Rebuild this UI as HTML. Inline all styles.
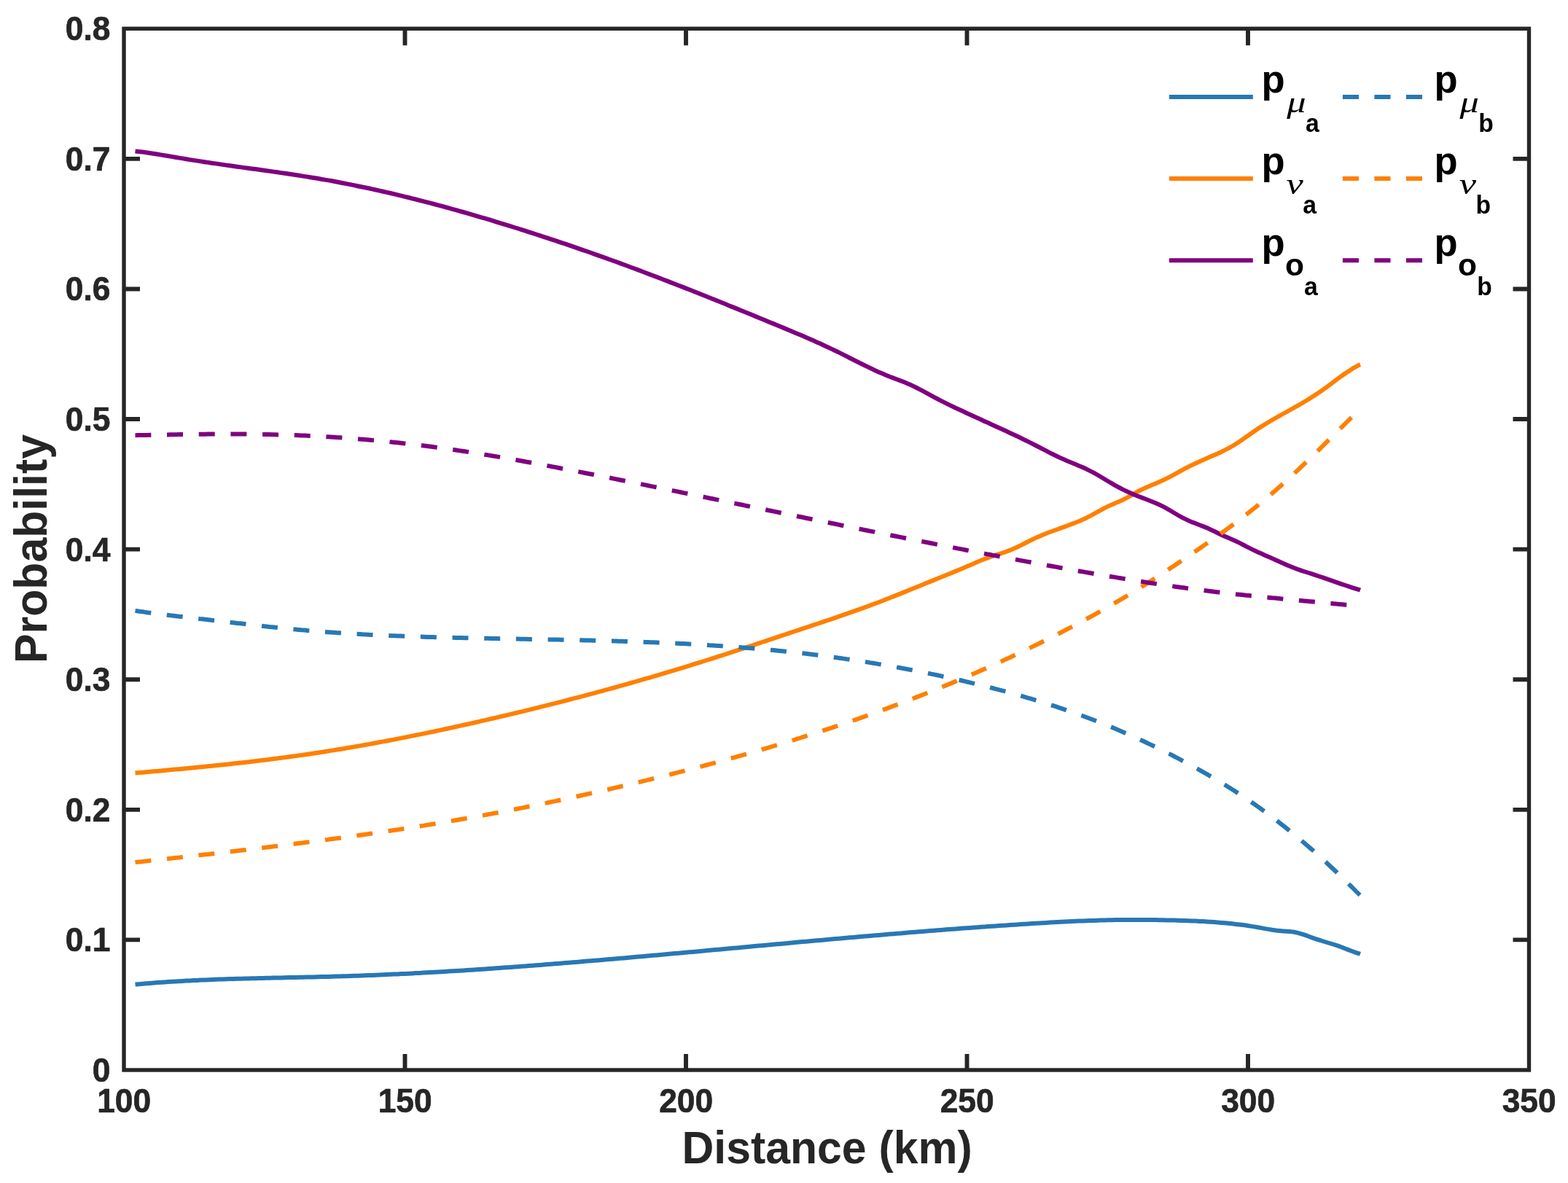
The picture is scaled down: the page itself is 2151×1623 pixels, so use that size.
<!DOCTYPE html>
<html lang="en"><head><meta charset="utf-8"><title>Probability vs Distance</title>
<style>
html,body{margin:0;padding:0;background:#fff;}
body{width:2151px;height:1623px;overflow:hidden;}
svg{display:block;}
text{font-family:"Liberation Sans",Arial,Helvetica,sans-serif;font-weight:bold;}
.c{fill:none;stroke-width:6.0;stroke-linejoin:round;stroke-linecap:butt;}
</style></head><body>
<svg width="2151" height="1623" viewBox="0 0 2151 1623">
<rect width="2151" height="1623" fill="#fff"/>
<path class="c" stroke="#2878b5" d="M185.5,1350.6 L190.5,1350.2 L195.5,1349.7 L200.5,1349.3 L205.5,1348.9 L210.5,1348.5 L215.5,1348.1 L220.5,1347.8 L225.5,1347.4 L230.5,1347.1 L235.5,1346.8 L240.5,1346.5 L245.5,1346.2 L250.5,1345.9 L255.5,1345.6 L260.5,1345.4 L265.5,1345.1 L270.5,1344.9 L275.5,1344.6 L280.5,1344.4 L285.5,1344.2 L290.5,1344.0 L295.5,1343.8 L300.5,1343.6 L305.5,1343.5 L310.5,1343.3 L315.5,1343.1 L320.5,1343.0 L325.5,1342.8 L330.5,1342.7 L335.5,1342.5 L340.5,1342.4 L345.5,1342.3 L350.5,1342.2 L355.5,1342.0 L360.5,1341.9 L365.5,1341.8 L370.5,1341.7 L375.5,1341.6 L380.5,1341.5 L385.5,1341.4 L390.5,1341.3 L395.5,1341.1 L400.5,1341.0 L405.5,1340.9 L410.5,1340.8 L415.5,1340.7 L420.5,1340.6 L425.5,1340.5 L430.5,1340.4 L435.5,1340.3 L440.5,1340.1 L445.5,1340.0 L450.5,1339.9 L455.5,1339.7 L460.5,1339.6 L465.5,1339.5 L470.5,1339.3 L475.5,1339.2 L480.5,1339.0 L485.5,1338.8 L490.5,1338.7 L495.5,1338.5 L500.5,1338.3 L505.5,1338.1 L510.5,1337.9 L515.5,1337.7 L520.5,1337.5 L525.5,1337.3 L530.5,1337.1 L535.5,1336.8 L540.5,1336.6 L545.5,1336.4 L550.5,1336.1 L555.5,1335.9 L560.5,1335.7 L565.5,1335.4 L570.5,1335.1 L575.5,1334.9 L580.5,1334.6 L585.5,1334.3 L590.5,1334.1 L595.5,1333.8 L600.5,1333.5 L605.5,1333.2 L610.5,1332.9 L615.5,1332.6 L620.5,1332.3 L625.5,1332.0 L630.5,1331.7 L635.5,1331.4 L640.5,1331.0 L645.5,1330.7 L650.5,1330.4 L655.5,1330.1 L660.5,1329.7 L665.5,1329.4 L670.5,1329.0 L675.5,1328.7 L680.5,1328.3 L685.5,1328.0 L690.5,1327.6 L695.5,1327.3 L700.5,1326.9 L705.5,1326.5 L710.5,1326.2 L715.5,1325.8 L720.5,1325.4 L725.5,1325.1 L730.5,1324.7 L735.5,1324.3 L740.5,1323.9 L745.5,1323.5 L750.5,1323.1 L755.5,1322.7 L760.5,1322.3 L765.5,1321.9 L770.5,1321.5 L775.5,1321.1 L780.5,1320.7 L785.5,1320.3 L790.5,1319.9 L795.5,1319.5 L800.5,1319.1 L805.5,1318.6 L810.5,1318.2 L815.5,1317.8 L820.5,1317.4 L825.5,1317.0 L830.5,1316.5 L835.5,1316.1 L840.5,1315.7 L845.5,1315.2 L850.5,1314.8 L855.5,1314.4 L860.5,1313.9 L865.5,1313.5 L870.5,1313.1 L875.5,1312.6 L880.5,1312.2 L885.5,1311.7 L890.5,1311.3 L895.5,1310.8 L900.5,1310.4 L905.5,1309.9 L910.5,1309.5 L915.5,1309.1 L920.5,1308.6 L925.5,1308.1 L930.5,1307.7 L935.5,1307.2 L940.5,1306.8 L945.5,1306.3 L950.5,1305.9 L955.5,1305.4 L960.5,1305.0 L965.5,1304.5 L970.5,1304.1 L975.5,1303.6 L980.5,1303.1 L985.5,1302.7 L990.5,1302.2 L995.5,1301.8 L1000.5,1301.3 L1005.5,1300.8 L1010.5,1300.4 L1015.5,1299.9 L1020.5,1299.5 L1025.5,1299.0 L1030.5,1298.5 L1035.5,1298.1 L1040.5,1297.6 L1045.5,1297.2 L1050.5,1296.7 L1055.5,1296.3 L1060.5,1295.8 L1065.5,1295.3 L1070.5,1294.9 L1075.5,1294.4 L1080.5,1294.0 L1085.5,1293.5 L1090.5,1293.1 L1095.5,1292.6 L1100.5,1292.1 L1105.5,1291.7 L1110.5,1291.2 L1115.5,1290.8 L1120.5,1290.3 L1125.5,1289.9 L1130.5,1289.4 L1135.5,1289.0 L1140.5,1288.6 L1145.5,1288.1 L1150.5,1287.7 L1155.5,1287.2 L1160.5,1286.8 L1165.5,1286.3 L1170.5,1285.9 L1175.5,1285.5 L1180.5,1285.0 L1185.5,1284.6 L1190.5,1284.2 L1195.5,1283.7 L1200.5,1283.3 L1205.5,1282.9 L1210.5,1282.5 L1215.5,1282.0 L1220.5,1281.6 L1225.5,1281.2 L1230.5,1280.8 L1235.5,1280.4 L1240.5,1279.9 L1245.5,1279.5 L1250.5,1279.1 L1255.5,1278.7 L1260.5,1278.3 L1265.5,1277.9 L1270.5,1277.5 L1275.5,1277.1 L1280.5,1276.7 L1285.5,1276.3 L1290.5,1275.9 L1295.5,1275.5 L1300.5,1275.1 L1305.5,1274.8 L1310.5,1274.4 L1315.5,1274.0 L1320.5,1273.6 L1325.5,1273.3 L1330.5,1272.9 L1335.5,1272.5 L1340.5,1272.2 L1345.5,1271.8 L1350.5,1271.4 L1355.5,1271.1 L1360.5,1270.7 L1365.5,1270.4 L1370.5,1270.0 L1375.5,1269.7 L1380.5,1269.4 L1385.5,1269.0 L1390.5,1268.7 L1395.5,1268.4 L1400.5,1268.0 L1405.5,1267.7 L1410.5,1267.4 L1415.5,1267.1 L1420.5,1266.8 L1425.5,1266.5 L1430.5,1266.2 L1435.5,1265.9 L1440.5,1265.6 L1445.5,1265.3 L1450.5,1265.1 L1455.5,1264.8 L1460.5,1264.5 L1465.5,1264.3 L1470.5,1264.1 L1475.5,1263.8 L1480.5,1263.6 L1485.5,1263.4 L1490.5,1263.2 L1495.5,1263.0 L1500.5,1262.9 L1505.5,1262.7 L1510.5,1262.6 L1515.5,1262.4 L1520.5,1262.3 L1525.5,1262.2 L1530.5,1262.1 L1535.5,1262.0 L1540.5,1262.0 L1545.5,1261.9 L1550.5,1261.9 L1555.5,1261.9 L1560.5,1261.9 L1565.5,1261.9 L1570.5,1261.9 L1575.5,1262.0 L1580.5,1262.0 L1585.5,1262.1 L1590.5,1262.2 L1595.5,1262.3 L1600.5,1262.4 L1605.5,1262.5 L1610.5,1262.6 L1615.5,1262.7 L1620.5,1262.9 L1625.5,1263.0 L1630.5,1263.2 L1635.5,1263.4 L1640.5,1263.6 L1645.5,1263.9 L1650.5,1264.1 L1655.5,1264.4 L1660.5,1264.7 L1665.5,1265.1 L1670.5,1265.4 L1675.5,1265.9 L1680.5,1266.3 L1685.5,1266.8 L1690.5,1267.3 L1695.5,1267.9 L1700.5,1268.5 L1705.5,1269.1 L1710.5,1269.8 L1715.5,1270.6 L1720.5,1271.4 L1725.5,1272.2 L1730.5,1273.1 L1735.5,1274.1 L1740.5,1274.9 L1745.5,1275.8 L1750.5,1276.5 L1755.5,1277.0 L1760.5,1277.4 L1765.5,1277.7 L1770.5,1278.1 L1775.5,1278.8 L1780.5,1279.9 L1785.5,1281.3 L1790.5,1282.9 L1795.5,1284.8 L1800.5,1286.6 L1805.5,1288.3 L1810.5,1289.9 L1815.5,1291.5 L1820.5,1293.0 L1825.5,1294.5 L1830.5,1296.0 L1835.5,1297.7 L1840.5,1299.5 L1845.5,1301.5 L1850.5,1303.4 L1855.5,1305.3 L1860.5,1307.1 L1865.5,1308.7 L1866.0,1308.9"/>
<path class="c" stroke="#ff8000" d="M185.5,1060.5 L190.5,1060.1 L195.5,1059.7 L200.5,1059.2 L205.5,1058.8 L210.5,1058.3 L215.5,1057.9 L220.5,1057.5 L225.5,1057.0 L230.5,1056.6 L235.5,1056.1 L240.5,1055.6 L245.5,1055.2 L250.5,1054.7 L255.5,1054.2 L260.5,1053.8 L265.5,1053.3 L270.5,1052.8 L275.5,1052.3 L280.5,1051.8 L285.5,1051.3 L290.5,1050.8 L295.5,1050.3 L300.5,1049.8 L305.5,1049.2 L310.5,1048.7 L315.5,1048.2 L320.5,1047.6 L325.5,1047.1 L330.5,1046.5 L335.5,1045.9 L340.5,1045.4 L345.5,1044.8 L350.5,1044.2 L355.5,1043.6 L360.5,1043.0 L365.5,1042.4 L370.5,1041.7 L375.5,1041.1 L380.5,1040.5 L385.5,1039.8 L390.5,1039.1 L395.5,1038.5 L400.5,1037.8 L405.5,1037.1 L410.5,1036.4 L415.5,1035.7 L420.5,1035.0 L425.5,1034.2 L430.5,1033.5 L435.5,1032.7 L440.5,1032.0 L445.5,1031.2 L450.5,1030.4 L455.5,1029.6 L460.5,1028.8 L465.5,1028.0 L470.5,1027.2 L475.5,1026.3 L480.5,1025.5 L485.5,1024.6 L490.5,1023.7 L495.5,1022.9 L500.5,1022.0 L505.5,1021.1 L510.5,1020.2 L515.5,1019.3 L520.5,1018.3 L525.5,1017.4 L530.5,1016.5 L535.5,1015.5 L540.5,1014.6 L545.5,1013.6 L550.5,1012.6 L555.5,1011.6 L560.5,1010.6 L565.5,1009.6 L570.5,1008.6 L575.5,1007.6 L580.5,1006.6 L585.5,1005.6 L590.5,1004.5 L595.5,1003.5 L600.5,1002.4 L605.5,1001.4 L610.5,1000.3 L615.5,999.2 L620.5,998.1 L625.5,997.0 L630.5,995.9 L635.5,994.8 L640.5,993.7 L645.5,992.6 L650.5,991.5 L655.5,990.4 L660.5,989.2 L665.5,988.1 L670.5,986.9 L675.5,985.8 L680.5,984.6 L685.5,983.4 L690.5,982.3 L695.5,981.1 L700.5,979.9 L705.5,978.7 L710.5,977.5 L715.5,976.3 L720.5,975.1 L725.5,973.9 L730.5,972.6 L735.5,971.4 L740.5,970.2 L745.5,968.9 L750.5,967.7 L755.5,966.4 L760.5,965.1 L765.5,963.9 L770.5,962.6 L775.5,961.3 L780.5,960.0 L785.5,958.7 L790.5,957.4 L795.5,956.1 L800.5,954.8 L805.5,953.4 L810.5,952.1 L815.5,950.8 L820.5,949.4 L825.5,948.1 L830.5,946.7 L835.5,945.3 L840.5,944.0 L845.5,942.6 L850.5,941.2 L855.5,939.8 L860.5,938.4 L865.5,937.0 L870.5,935.5 L875.5,934.1 L880.5,932.7 L885.5,931.2 L890.5,929.8 L895.5,928.3 L900.5,926.8 L905.5,925.4 L910.5,923.9 L915.5,922.4 L920.5,920.9 L925.5,919.4 L930.5,917.9 L935.5,916.3 L940.5,914.8 L945.5,913.3 L950.5,911.7 L955.5,910.2 L960.5,908.6 L965.5,907.0 L970.5,905.5 L975.5,903.9 L980.5,902.3 L985.5,900.7 L990.5,899.1 L995.5,897.5 L1000.5,895.8 L1005.5,894.2 L1010.5,892.6 L1015.5,890.9 L1020.5,889.3 L1025.5,887.7 L1030.5,886.0 L1035.5,884.4 L1040.5,882.7 L1045.5,881.0 L1050.5,879.4 L1055.5,877.7 L1060.5,876.1 L1065.5,874.4 L1070.5,872.7 L1075.5,871.0 L1080.5,869.4 L1085.5,867.7 L1090.5,866.0 L1095.5,864.4 L1100.5,862.7 L1105.5,861.0 L1110.5,859.3 L1115.5,857.7 L1120.5,856.0 L1125.5,854.3 L1130.5,852.6 L1135.5,851.0 L1140.5,849.3 L1145.5,847.6 L1150.5,845.9 L1155.5,844.1 L1160.5,842.4 L1165.5,840.7 L1170.5,838.9 L1175.5,837.2 L1180.5,835.4 L1185.5,833.6 L1190.5,831.7 L1195.5,829.9 L1200.5,828.0 L1205.5,826.2 L1210.5,824.2 L1215.5,822.3 L1220.5,820.3 L1225.5,818.4 L1230.5,816.4 L1235.5,814.4 L1240.5,812.4 L1245.5,810.3 L1250.5,808.3 L1255.5,806.3 L1260.5,804.2 L1265.5,802.2 L1270.5,800.1 L1275.5,798.1 L1280.5,796.1 L1285.5,794.0 L1290.5,792.0 L1295.5,790.0 L1300.5,788.0 L1305.5,785.9 L1310.5,783.9 L1315.5,781.8 L1320.5,779.7 L1325.5,777.5 L1330.5,775.4 L1335.5,773.2 L1340.5,771.1 L1345.5,769.0 L1350.5,767.0 L1355.5,765.1 L1360.5,763.3 L1365.5,761.7 L1370.5,760.1 L1375.5,758.5 L1380.5,756.8 L1385.5,754.9 L1390.5,752.8 L1395.5,750.5 L1400.5,748.1 L1405.5,745.5 L1410.5,743.0 L1415.5,740.5 L1420.5,738.1 L1425.5,735.9 L1430.5,733.8 L1435.5,731.8 L1440.5,729.8 L1445.5,728.0 L1450.5,726.2 L1455.5,724.4 L1460.5,722.6 L1465.5,720.8 L1470.5,718.9 L1475.5,717.0 L1480.5,714.9 L1485.5,712.7 L1490.5,710.4 L1495.5,707.9 L1500.5,705.2 L1505.5,702.4 L1510.5,699.6 L1515.5,696.9 L1520.5,694.4 L1525.5,692.2 L1530.5,690.1 L1535.5,688.0 L1540.5,685.7 L1545.5,683.1 L1550.5,680.3 L1555.5,677.4 L1560.5,674.5 L1565.5,672.0 L1570.5,669.6 L1575.5,667.4 L1580.5,665.3 L1585.5,663.2 L1590.5,661.1 L1595.5,658.8 L1600.5,656.4 L1605.5,653.8 L1610.5,651.1 L1615.5,648.4 L1620.5,645.6 L1625.5,642.9 L1630.5,640.3 L1635.5,637.9 L1640.5,635.5 L1645.5,633.2 L1650.5,631.0 L1655.5,628.8 L1660.5,626.6 L1665.5,624.4 L1670.5,622.2 L1675.5,619.9 L1680.5,617.4 L1685.5,614.8 L1690.5,612.0 L1695.5,609.0 L1700.5,605.7 L1705.5,602.3 L1710.5,598.8 L1715.5,595.2 L1720.5,591.7 L1725.5,588.3 L1730.5,585.1 L1735.5,582.0 L1740.5,579.0 L1745.5,576.0 L1750.5,573.2 L1755.5,570.3 L1760.5,567.5 L1765.5,564.8 L1770.5,562.0 L1775.5,559.2 L1780.5,556.3 L1785.5,553.5 L1790.5,550.5 L1795.5,547.5 L1800.5,544.3 L1805.5,541.1 L1810.5,537.7 L1815.5,534.2 L1820.5,530.6 L1825.5,526.9 L1830.5,523.1 L1835.5,519.4 L1840.5,515.8 L1845.5,512.2 L1850.5,508.9 L1855.5,505.7 L1860.5,502.8 L1865.5,500.2 L1866.0,500.0"/>
<path class="c" stroke="#800080" d="M185.5,207.5 L190.5,208.0 L195.5,208.6 L200.5,209.3 L205.5,210.0 L210.5,210.8 L215.5,211.5 L220.5,212.4 L225.5,213.2 L230.5,214.0 L235.5,214.9 L240.5,215.8 L245.5,216.6 L250.5,217.4 L255.5,218.3 L260.5,219.1 L265.5,219.9 L270.5,220.6 L275.5,221.4 L280.5,222.2 L285.5,222.9 L290.5,223.7 L295.5,224.4 L300.5,225.1 L305.5,225.9 L310.5,226.6 L315.5,227.3 L320.5,228.0 L325.5,228.7 L330.5,229.4 L335.5,230.1 L340.5,230.8 L345.5,231.5 L350.5,232.1 L355.5,232.8 L360.5,233.5 L365.5,234.2 L370.5,234.9 L375.5,235.6 L380.5,236.3 L385.5,237.1 L390.5,237.8 L395.5,238.5 L400.5,239.3 L405.5,240.0 L410.5,240.8 L415.5,241.6 L420.5,242.4 L425.5,243.2 L430.5,244.0 L435.5,244.8 L440.5,245.7 L445.5,246.6 L450.5,247.4 L455.5,248.3 L460.5,249.3 L465.5,250.2 L470.5,251.2 L475.5,252.1 L480.5,253.1 L485.5,254.1 L490.5,255.2 L495.5,256.2 L500.5,257.2 L505.5,258.3 L510.5,259.4 L515.5,260.5 L520.5,261.6 L525.5,262.7 L530.5,263.9 L535.5,265.0 L540.5,266.2 L545.5,267.4 L550.5,268.6 L555.5,269.8 L560.5,271.0 L565.5,272.3 L570.5,273.5 L575.5,274.8 L580.5,276.1 L585.5,277.4 L590.5,278.7 L595.5,280.0 L600.5,281.3 L605.5,282.7 L610.5,284.0 L615.5,285.4 L620.5,286.8 L625.5,288.2 L630.5,289.6 L635.5,291.0 L640.5,292.4 L645.5,293.9 L650.5,295.3 L655.5,296.8 L660.5,298.3 L665.5,299.7 L670.5,301.2 L675.5,302.7 L680.5,304.3 L685.5,305.8 L690.5,307.3 L695.5,308.9 L700.5,310.4 L705.5,312.0 L710.5,313.5 L715.5,315.1 L720.5,316.7 L725.5,318.3 L730.5,319.9 L735.5,321.5 L740.5,323.1 L745.5,324.8 L750.5,326.4 L755.5,328.1 L760.5,329.7 L765.5,331.4 L770.5,333.1 L775.5,334.7 L780.5,336.4 L785.5,338.1 L790.5,339.9 L795.5,341.6 L800.5,343.3 L805.5,345.0 L810.5,346.8 L815.5,348.6 L820.5,350.3 L825.5,352.1 L830.5,353.9 L835.5,355.7 L840.5,357.5 L845.5,359.3 L850.5,361.1 L855.5,363.0 L860.5,364.8 L865.5,366.7 L870.5,368.5 L875.5,370.4 L880.5,372.3 L885.5,374.2 L890.5,376.1 L895.5,378.0 L900.5,379.9 L905.5,381.8 L910.5,383.7 L915.5,385.6 L920.5,387.6 L925.5,389.5 L930.5,391.5 L935.5,393.4 L940.5,395.4 L945.5,397.3 L950.5,399.3 L955.5,401.3 L960.5,403.3 L965.5,405.3 L970.5,407.3 L975.5,409.3 L980.5,411.3 L985.5,413.3 L990.5,415.3 L995.5,417.3 L1000.5,419.4 L1005.5,421.4 L1010.5,423.4 L1015.5,425.5 L1020.5,427.5 L1025.5,429.5 L1030.5,431.6 L1035.5,433.6 L1040.5,435.7 L1045.5,437.7 L1050.5,439.8 L1055.5,441.9 L1060.5,443.9 L1065.5,446.0 L1070.5,448.1 L1075.5,450.1 L1080.5,452.2 L1085.5,454.3 L1090.5,456.4 L1095.5,458.5 L1100.5,460.6 L1105.5,462.8 L1110.5,464.9 L1115.5,467.1 L1120.5,469.4 L1125.5,471.6 L1130.5,473.9 L1135.5,476.2 L1140.5,478.6 L1145.5,481.0 L1150.5,483.4 L1155.5,485.9 L1160.5,488.4 L1165.5,491.0 L1170.5,493.5 L1175.5,496.0 L1180.5,498.5 L1185.5,501.0 L1190.5,503.4 L1195.5,505.8 L1200.5,508.2 L1205.5,510.4 L1210.5,512.6 L1215.5,514.7 L1220.5,516.7 L1225.5,518.6 L1230.5,520.5 L1235.5,522.4 L1240.5,524.3 L1245.5,526.4 L1250.5,528.6 L1255.5,531.0 L1260.5,533.6 L1265.5,536.2 L1270.5,538.9 L1275.5,541.6 L1280.5,544.4 L1285.5,547.0 L1290.5,549.6 L1295.5,552.1 L1300.5,554.6 L1305.5,557.1 L1310.5,559.4 L1315.5,561.8 L1320.5,564.1 L1325.5,566.5 L1330.5,568.8 L1335.5,571.1 L1340.5,573.3 L1345.5,575.6 L1350.5,577.9 L1355.5,580.1 L1360.5,582.4 L1365.5,584.7 L1370.5,587.0 L1375.5,589.3 L1380.5,591.6 L1385.5,593.9 L1390.5,596.3 L1395.5,598.6 L1400.5,601.0 L1405.5,603.5 L1410.5,605.9 L1415.5,608.4 L1420.5,611.0 L1425.5,613.5 L1430.5,616.1 L1435.5,618.7 L1440.5,621.3 L1445.5,623.8 L1450.5,626.2 L1455.5,628.6 L1460.5,630.8 L1465.5,633.0 L1470.5,635.0 L1475.5,637.1 L1480.5,639.2 L1485.5,641.3 L1490.5,643.6 L1495.5,646.1 L1500.5,648.7 L1505.5,651.5 L1510.5,654.5 L1515.5,657.5 L1520.5,660.5 L1525.5,663.4 L1530.5,666.3 L1535.5,669.0 L1540.5,671.6 L1545.5,674.0 L1550.5,676.3 L1555.5,678.5 L1560.5,680.5 L1565.5,682.4 L1570.5,684.3 L1575.5,686.2 L1580.5,688.2 L1585.5,690.2 L1590.5,692.5 L1595.5,694.9 L1600.5,697.6 L1605.5,700.5 L1610.5,703.5 L1615.5,706.5 L1620.5,709.3 L1625.5,711.9 L1630.5,714.3 L1635.5,716.4 L1640.5,718.3 L1645.5,720.2 L1650.5,722.1 L1655.5,724.1 L1660.5,726.4 L1665.5,728.8 L1670.5,731.3 L1675.5,733.7 L1680.5,736.0 L1685.5,738.1 L1690.5,740.2 L1695.5,742.5 L1700.5,744.9 L1705.5,747.5 L1710.5,750.1 L1715.5,752.6 L1720.5,755.1 L1725.5,757.4 L1730.5,759.6 L1735.5,761.9 L1740.5,764.1 L1745.5,766.3 L1750.5,768.5 L1755.5,770.8 L1760.5,773.0 L1765.5,775.2 L1770.5,777.3 L1775.5,779.3 L1780.5,781.2 L1785.5,782.9 L1790.5,784.5 L1795.5,786.0 L1800.5,787.7 L1805.5,789.3 L1810.5,791.0 L1815.5,792.7 L1820.5,794.4 L1825.5,796.1 L1830.5,797.8 L1835.5,799.6 L1840.5,801.3 L1845.5,803.0 L1850.5,804.6 L1855.5,806.3 L1860.5,807.9 L1865.5,809.4 L1866.0,809.6"/>
<path class="c" stroke="#2878b5" stroke-dasharray="22.00 21.69" stroke-dashoffset="0.02" d="M185.5,837.9 L189.5,838.5 L193.5,839.1 L197.5,839.6 L201.5,840.2 L205.5,840.7 L209.5,841.3 L213.5,841.8 L217.5,842.3 L221.5,842.8 L225.5,843.3 L229.5,843.8 L233.5,844.3 L237.5,844.7 L241.5,845.2 L245.5,845.7 L249.5,846.1 L253.5,846.6 L257.5,847.1 L261.5,847.5 L265.5,848.0 L269.5,848.4 L273.5,848.9 L277.5,849.3 L281.5,849.8 L285.5,850.2 L289.5,850.7 L293.5,851.2 L297.5,851.6 L301.5,852.1 L305.5,852.5 L309.5,853.0 L313.5,853.5 L317.5,853.9 L321.5,854.4 L325.5,854.9 L329.5,855.3 L333.5,855.8 L337.5,856.3 L341.5,856.7 L345.5,857.2 L349.5,857.6 L353.5,858.1 L357.5,858.5 L361.5,859.0 L365.5,859.4 L369.5,859.9 L373.5,860.3 L377.5,860.7 L381.5,861.1 L385.5,861.5 L389.5,862.0 L393.5,862.4 L397.5,862.8 L401.5,863.1 L405.5,863.5 L409.5,863.9 L413.5,864.3 L417.5,864.6 L421.5,865.0 L425.5,865.3 L429.5,865.7 L433.5,866.0 L437.5,866.3 L441.5,866.6 L445.5,866.9 L449.5,867.2 L453.5,867.5 L457.5,867.8 L461.5,868.1 L465.5,868.3 L469.5,868.6 L473.5,868.9 L477.5,869.1 L481.5,869.4 L485.5,869.6 L489.5,869.8 L493.5,870.0 L497.5,870.3 L501.5,870.5 L505.5,870.7 L509.5,870.9 L513.5,871.1 L517.5,871.3 L521.5,871.5 L525.5,871.6 L529.5,871.8 L533.5,872.0 L537.5,872.2 L541.5,872.3 L545.5,872.5 L549.5,872.6 L553.5,872.8 L557.5,872.9 L561.5,873.1 L565.5,873.2 L569.5,873.4 L573.5,873.5 L577.5,873.6 L581.5,873.7 L585.5,873.9 L589.5,874.0 L593.5,874.1 L597.5,874.2 L601.5,874.3 L605.5,874.4 L609.5,874.5 L613.5,874.6 L617.5,874.7 L621.5,874.8 L625.5,874.9 L629.5,875.0 L633.5,875.1 L637.5,875.2 L641.5,875.3 L645.5,875.4 L649.5,875.4 L653.5,875.5 L657.5,875.6 L661.5,875.7 L665.5,875.8 L669.5,875.8 L673.5,875.9 L677.5,876.0 L681.5,876.1 L685.5,876.2 L689.5,876.2 L693.5,876.3 L697.5,876.4 L701.5,876.4 L705.5,876.5 L709.5,876.6 L713.5,876.7 L717.5,876.7 L721.5,876.8 L725.5,876.9 L729.5,877.0 L733.5,877.0 L737.5,877.1 L741.5,877.2 L745.5,877.3 L749.5,877.3 L753.5,877.4 L757.5,877.5 L761.5,877.6 L765.5,877.6 L769.5,877.7 L773.5,877.8 L777.5,877.9 L781.5,878.0 L785.5,878.0 L789.5,878.1 L793.5,878.2 L797.5,878.3 L801.5,878.4 L805.5,878.5 L809.5,878.6 L813.5,878.7 L817.5,878.8 L821.5,878.9 L825.5,879.0 L829.5,879.1 L833.5,879.2 L837.5,879.3 L841.5,879.4 L845.5,879.5 L849.5,879.7 L853.5,879.8 L857.5,879.9 L861.5,880.0 L865.5,880.2 L869.5,880.3 L873.5,880.4 L877.5,880.6 L881.5,880.7 L885.5,880.9 L889.5,881.0 L893.5,881.2 L897.5,881.3 L901.5,881.5 L905.5,881.7 L909.5,881.8 L913.5,882.0 L917.5,882.2 L921.5,882.4 L925.5,882.5 L929.5,882.7 L933.5,882.9 L937.5,883.1 L941.5,883.3 L945.5,883.5 L949.5,883.8 L953.5,884.0 L957.5,884.2 L961.5,884.4 L965.5,884.7 L969.5,884.9 L973.5,885.2 L977.5,885.4 L981.5,885.7 L985.5,885.9 L989.5,886.2 L993.5,886.5 L997.5,886.7 L1001.5,887.0 L1005.5,887.3 L1009.5,887.6 L1013.5,887.9 L1017.5,888.2 L1021.5,888.5 L1025.5,888.9 L1029.5,889.2 L1033.5,889.5 L1037.5,889.9 L1041.5,890.2 L1045.5,890.6 L1049.5,890.9 L1053.5,891.3 L1057.5,891.7 L1061.5,892.1 L1065.5,892.5 L1069.5,892.9 L1073.5,893.3 L1077.5,893.7 L1081.5,894.1 L1085.5,894.5 L1089.5,895.0 L1093.5,895.4 L1097.5,895.9 L1101.5,896.3 L1105.5,896.8 L1109.5,897.3 L1113.5,897.8 L1117.5,898.2 L1121.5,898.7 L1125.5,899.3 L1129.5,899.8 L1133.5,900.3 L1137.5,900.8 L1141.5,901.4 L1145.5,901.9 L1149.5,902.5 L1153.5,903.0 L1157.5,903.6 L1161.5,904.2 L1165.5,904.7 L1169.5,905.3 L1173.5,905.9 L1177.5,906.6 L1181.5,907.2 L1185.5,907.8 L1189.5,908.4 L1193.5,909.1 L1197.5,909.7 L1201.5,910.4 L1205.5,911.1 L1209.5,911.7 L1213.5,912.4 L1217.5,913.1 L1221.5,913.8 L1225.5,914.5 L1229.5,915.3 L1233.5,916.0 L1237.5,916.7 L1241.5,917.5 L1245.5,918.2 L1249.5,919.0 L1253.5,919.8 L1257.5,920.5 L1261.5,921.3 L1265.5,922.1 L1269.5,922.9 L1273.5,923.7 L1277.5,924.6 L1281.5,925.4 L1285.5,926.2 L1289.5,927.1 L1293.5,928.0 L1297.5,928.8 L1301.5,929.7 L1305.5,930.6 L1309.5,931.5 L1313.5,932.4 L1317.5,933.3 L1321.5,934.2 L1325.5,935.2 L1329.5,936.1 L1333.5,937.1 L1337.5,938.0 L1341.5,939.0 L1345.5,940.0 L1349.5,941.0 L1353.5,942.0 L1357.5,943.0 L1361.5,944.0 L1365.5,945.1 L1369.5,946.1 L1373.5,947.2 L1377.5,948.2 L1381.5,949.3 L1385.5,950.4 L1389.5,951.5 L1393.5,952.6 L1397.5,953.8 L1401.5,954.9 L1405.5,956.1 L1409.5,957.3 L1413.5,958.4 L1417.5,959.6 L1421.5,960.8 L1425.5,962.1 L1429.5,963.3 L1433.5,964.6 L1437.5,965.8 L1441.5,967.1 L1445.5,968.4 L1449.5,969.7 L1453.5,971.1 L1457.5,972.4 L1461.5,973.8 L1465.5,975.2 L1469.5,976.6 L1473.5,978.0 L1477.5,979.4 L1481.5,980.8 L1485.5,982.3 L1489.5,983.8 L1493.5,985.3 L1497.5,986.8 L1501.5,988.3 L1505.5,989.9 L1509.5,991.4 L1513.5,993.0 L1517.5,994.6 L1521.5,996.3 L1525.5,997.9 L1529.5,999.6 L1533.5,1001.2 L1537.5,1002.9 L1541.5,1004.7 L1545.5,1006.4 L1549.5,1008.2 L1553.5,1010.0 L1557.5,1011.8 L1561.5,1013.6 L1565.5,1015.4 L1569.5,1017.3 L1573.5,1019.2 L1577.5,1021.1 L1581.5,1023.0 L1585.5,1024.9 L1589.5,1026.9 L1593.5,1028.9 L1597.5,1030.9 L1601.5,1032.9 L1605.5,1034.9 L1609.5,1037.0 L1613.5,1039.1 L1617.5,1041.2 L1621.5,1043.3 L1625.5,1045.4 L1629.5,1047.6 L1633.5,1049.8 L1637.5,1052.0 L1641.5,1054.2 L1645.5,1056.4 L1649.5,1058.7 L1653.5,1060.9 L1657.5,1063.2 L1661.5,1065.6 L1665.5,1067.9 L1669.5,1070.3 L1673.5,1072.7 L1677.5,1075.1 L1681.5,1077.5 L1685.5,1080.0 L1689.5,1082.5 L1693.5,1085.1 L1697.5,1087.6 L1701.5,1090.2 L1705.5,1092.9 L1709.5,1095.5 L1713.5,1098.2 L1717.5,1101.0 L1721.5,1103.8 L1725.5,1106.6 L1729.5,1109.5 L1733.5,1112.4 L1737.5,1115.3 L1741.5,1118.3 L1745.5,1121.3 L1749.5,1124.4 L1753.5,1127.4 L1757.5,1130.6 L1761.5,1133.7 L1765.5,1136.9 L1769.5,1140.1 L1773.5,1143.4 L1777.5,1146.7 L1781.5,1150.0 L1785.5,1153.3 L1789.5,1156.7 L1793.5,1160.2 L1797.5,1163.6 L1801.5,1167.1 L1805.5,1170.7 L1809.5,1174.3 L1813.5,1177.9 L1817.5,1181.5 L1821.5,1185.2 L1825.5,1189.0 L1829.5,1192.7 L1833.5,1196.5 L1837.5,1200.4 L1841.5,1204.2 L1845.5,1208.1 L1849.5,1212.1 L1853.5,1216.0 L1857.5,1220.0 L1861.5,1224.0 L1865.5,1228.0 L1866.0,1228.5"/>
<path class="c" stroke="#ff8000" stroke-dasharray="22.00 21.72" stroke-dashoffset="0.00" d="M185.5,1183.1 L189.5,1182.6 L193.5,1182.2 L197.5,1181.7 L201.5,1181.3 L205.5,1180.8 L209.5,1180.4 L213.5,1179.9 L217.5,1179.5 L221.5,1179.1 L225.5,1178.6 L229.5,1178.2 L233.5,1177.7 L237.5,1177.3 L241.5,1176.8 L245.5,1176.4 L249.5,1175.9 L253.5,1175.5 L257.5,1175.0 L261.5,1174.6 L265.5,1174.1 L269.5,1173.7 L273.5,1173.2 L277.5,1172.8 L281.5,1172.3 L285.5,1171.9 L289.5,1171.4 L293.5,1171.0 L297.5,1170.5 L301.5,1170.0 L305.5,1169.6 L309.5,1169.1 L313.5,1168.7 L317.5,1168.2 L321.5,1167.7 L325.5,1167.3 L329.5,1166.8 L333.5,1166.3 L337.5,1165.9 L341.5,1165.4 L345.5,1164.9 L349.5,1164.4 L353.5,1163.9 L357.5,1163.5 L361.5,1163.0 L365.5,1162.5 L369.5,1162.0 L373.5,1161.5 L377.5,1161.0 L381.5,1160.6 L385.5,1160.1 L389.5,1159.6 L393.5,1159.1 L397.5,1158.6 L401.5,1158.1 L405.5,1157.6 L409.5,1157.1 L413.5,1156.6 L417.5,1156.0 L421.5,1155.5 L425.5,1155.0 L429.5,1154.5 L433.5,1154.0 L437.5,1153.5 L441.5,1152.9 L445.5,1152.4 L449.5,1151.9 L453.5,1151.3 L457.5,1150.8 L461.5,1150.3 L465.5,1149.7 L469.5,1149.2 L473.5,1148.6 L477.5,1148.1 L481.5,1147.5 L485.5,1147.0 L489.5,1146.4 L493.5,1145.8 L497.5,1145.3 L501.5,1144.7 L505.5,1144.1 L509.5,1143.6 L513.5,1143.0 L517.5,1142.4 L521.5,1141.8 L525.5,1141.2 L529.5,1140.6 L533.5,1140.0 L537.5,1139.4 L541.5,1138.8 L545.5,1138.2 L549.5,1137.6 L553.5,1137.0 L557.5,1136.4 L561.5,1135.7 L565.5,1135.1 L569.5,1134.5 L573.5,1133.9 L577.5,1133.2 L581.5,1132.6 L585.5,1131.9 L589.5,1131.3 L593.5,1130.6 L597.5,1130.0 L601.5,1129.3 L605.5,1128.6 L609.5,1128.0 L613.5,1127.3 L617.5,1126.6 L621.5,1125.9 L625.5,1125.2 L629.5,1124.5 L633.5,1123.8 L637.5,1123.1 L641.5,1122.4 L645.5,1121.7 L649.5,1121.0 L653.5,1120.3 L657.5,1119.5 L661.5,1118.8 L665.5,1118.1 L669.5,1117.3 L673.5,1116.6 L677.5,1115.8 L681.5,1115.1 L685.5,1114.3 L689.5,1113.6 L693.5,1112.8 L697.5,1112.0 L701.5,1111.2 L705.5,1110.5 L709.5,1109.7 L713.5,1108.9 L717.5,1108.1 L721.5,1107.3 L725.5,1106.5 L729.5,1105.7 L733.5,1104.9 L737.5,1104.1 L741.5,1103.2 L745.5,1102.4 L749.5,1101.6 L753.5,1100.7 L757.5,1099.9 L761.5,1099.1 L765.5,1098.2 L769.5,1097.4 L773.5,1096.5 L777.5,1095.7 L781.5,1094.8 L785.5,1093.9 L789.5,1093.0 L793.5,1092.2 L797.5,1091.3 L801.5,1090.4 L805.5,1089.5 L809.5,1088.6 L813.5,1087.7 L817.5,1086.8 L821.5,1085.9 L825.5,1085.0 L829.5,1084.1 L833.5,1083.2 L837.5,1082.3 L841.5,1081.3 L845.5,1080.4 L849.5,1079.5 L853.5,1078.5 L857.5,1077.6 L861.5,1076.6 L865.5,1075.7 L869.5,1074.7 L873.5,1073.8 L877.5,1072.8 L881.5,1071.8 L885.5,1070.9 L889.5,1069.9 L893.5,1068.9 L897.5,1067.9 L901.5,1067.0 L905.5,1066.0 L909.5,1065.0 L913.5,1064.0 L917.5,1063.0 L921.5,1062.0 L925.5,1060.9 L929.5,1059.9 L933.5,1058.9 L937.5,1057.9 L941.5,1056.8 L945.5,1055.8 L949.5,1054.8 L953.5,1053.7 L957.5,1052.7 L961.5,1051.6 L965.5,1050.6 L969.5,1049.5 L973.5,1048.4 L977.5,1047.3 L981.5,1046.3 L985.5,1045.2 L989.5,1044.1 L993.5,1043.0 L997.5,1041.9 L1001.5,1040.8 L1005.5,1039.7 L1009.5,1038.6 L1013.5,1037.4 L1017.5,1036.3 L1021.5,1035.2 L1025.5,1034.0 L1029.5,1032.9 L1033.5,1031.7 L1037.5,1030.6 L1041.5,1029.4 L1045.5,1028.2 L1049.5,1027.1 L1053.5,1025.9 L1057.5,1024.7 L1061.5,1023.5 L1065.5,1022.3 L1069.5,1021.1 L1073.5,1019.9 L1077.5,1018.7 L1081.5,1017.4 L1085.5,1016.2 L1089.5,1015.0 L1093.5,1013.7 L1097.5,1012.5 L1101.5,1011.2 L1105.5,1009.9 L1109.5,1008.7 L1113.5,1007.4 L1117.5,1006.1 L1121.5,1004.8 L1125.5,1003.5 L1129.5,1002.2 L1133.5,1000.9 L1137.5,999.6 L1141.5,998.3 L1145.5,996.9 L1149.5,995.6 L1153.5,994.2 L1157.5,992.9 L1161.5,991.5 L1165.5,990.1 L1169.5,988.8 L1173.5,987.4 L1177.5,986.0 L1181.5,984.6 L1185.5,983.2 L1189.5,981.7 L1193.5,980.3 L1197.5,978.9 L1201.5,977.4 L1205.5,976.0 L1209.5,974.5 L1213.5,973.1 L1217.5,971.6 L1221.5,970.1 L1225.5,968.6 L1229.5,967.1 L1233.5,965.6 L1237.5,964.1 L1241.5,962.6 L1245.5,961.1 L1249.5,959.5 L1253.5,958.0 L1257.5,956.4 L1261.5,954.9 L1265.5,953.3 L1269.5,951.7 L1273.5,950.1 L1277.5,948.5 L1281.5,946.9 L1285.5,945.3 L1289.5,943.7 L1293.5,942.0 L1297.5,940.4 L1301.5,938.7 L1305.5,937.1 L1309.5,935.4 L1313.5,933.7 L1317.5,932.0 L1321.5,930.3 L1325.5,928.6 L1329.5,926.9 L1333.5,925.2 L1337.5,923.5 L1341.5,921.7 L1345.5,920.0 L1349.5,918.2 L1353.5,916.4 L1357.5,914.6 L1361.5,912.8 L1365.5,911.0 L1369.5,909.2 L1373.5,907.4 L1377.5,905.6 L1381.5,903.7 L1385.5,901.9 L1389.5,900.0 L1393.5,898.1 L1397.5,896.2 L1401.5,894.3 L1405.5,892.4 L1409.5,890.5 L1413.5,888.6 L1417.5,886.6 L1421.5,884.7 L1425.5,882.7 L1429.5,880.7 L1433.5,878.8 L1437.5,876.8 L1441.5,874.7 L1445.5,872.7 L1449.5,870.7 L1453.5,868.7 L1457.5,866.6 L1461.5,864.5 L1465.5,862.4 L1469.5,860.4 L1473.5,858.2 L1477.5,856.1 L1481.5,854.0 L1485.5,851.9 L1489.5,849.7 L1493.5,847.5 L1497.5,845.3 L1501.5,843.1 L1505.5,840.9 L1509.5,838.7 L1513.5,836.4 L1517.5,834.1 L1521.5,831.8 L1525.5,829.5 L1529.5,827.2 L1533.5,824.9 L1537.5,822.5 L1541.5,820.1 L1545.5,817.7 L1549.5,815.3 L1553.5,812.9 L1557.5,810.4 L1561.5,807.9 L1565.5,805.4 L1569.5,802.9 L1573.5,800.4 L1577.5,797.9 L1581.5,795.3 L1585.5,792.7 L1589.5,790.1 L1593.5,787.5 L1597.5,784.9 L1601.5,782.3 L1605.5,779.6 L1609.5,777.0 L1613.5,774.3 L1617.5,771.6 L1621.5,768.9 L1625.5,766.2 L1629.5,763.5 L1633.5,760.8 L1637.5,758.0 L1641.5,755.3 L1645.5,752.5 L1649.5,749.7 L1653.5,746.9 L1657.5,744.2 L1661.5,741.3 L1665.5,738.5 L1669.5,735.7 L1673.5,732.8 L1677.5,730.0 L1681.5,727.1 L1685.5,724.1 L1689.5,721.2 L1693.5,718.2 L1697.5,715.2 L1701.5,712.2 L1705.5,709.1 L1709.5,706.0 L1713.5,702.9 L1717.5,699.7 L1721.5,696.5 L1725.5,693.3 L1729.5,690.0 L1733.5,686.7 L1737.5,683.3 L1741.5,679.9 L1745.5,676.5 L1749.5,673.0 L1753.5,669.5 L1757.5,665.9 L1761.5,662.3 L1765.5,658.7 L1769.5,655.0 L1773.5,651.3 L1777.5,647.6 L1781.5,643.8 L1785.5,640.0 L1789.5,636.2 L1793.5,632.4 L1797.5,628.5 L1801.5,624.6 L1805.5,620.7 L1809.5,616.8 L1813.5,612.9 L1817.5,608.9 L1821.5,604.9 L1825.5,601.0 L1829.5,597.0 L1833.5,593.0 L1837.5,589.0 L1841.5,585.1 L1845.5,581.1 L1849.5,577.1 L1853.5,573.1 L1857.5,569.2 L1861.5,565.2 L1865.5,561.3 L1866.0,560.8"/>
<path class="c" stroke="#800080" stroke-dasharray="22.00 21.69" stroke-dashoffset="0.15" d="M185.5,597.2 L189.5,597.1 L193.5,597.0 L197.5,596.9 L201.5,596.9 L205.5,596.8 L209.5,596.7 L213.5,596.6 L217.5,596.6 L221.5,596.5 L225.5,596.4 L229.5,596.4 L233.5,596.3 L237.5,596.2 L241.5,596.2 L245.5,596.1 L249.5,596.0 L253.5,596.0 L257.5,595.9 L261.5,595.9 L265.5,595.8 L269.5,595.8 L273.5,595.7 L277.5,595.7 L281.5,595.7 L285.5,595.6 L289.5,595.6 L293.5,595.6 L297.5,595.5 L301.5,595.5 L305.5,595.5 L309.5,595.5 L313.5,595.5 L317.5,595.5 L321.5,595.5 L325.5,595.5 L329.5,595.5 L333.5,595.6 L337.5,595.6 L341.5,595.6 L345.5,595.7 L349.5,595.7 L353.5,595.8 L357.5,595.8 L361.5,595.9 L365.5,596.0 L369.5,596.1 L373.5,596.2 L377.5,596.3 L381.5,596.4 L385.5,596.5 L389.5,596.6 L393.5,596.7 L397.5,596.9 L401.5,597.0 L405.5,597.1 L409.5,597.3 L413.5,597.5 L417.5,597.6 L421.5,597.8 L425.5,598.0 L429.5,598.2 L433.5,598.4 L437.5,598.6 L441.5,598.8 L445.5,599.1 L449.5,599.3 L453.5,599.5 L457.5,599.8 L461.5,600.1 L465.5,600.3 L469.5,600.6 L473.5,600.9 L477.5,601.2 L481.5,601.5 L485.5,601.8 L489.5,602.1 L493.5,602.4 L497.5,602.7 L501.5,603.1 L505.5,603.4 L509.5,603.8 L513.5,604.1 L517.5,604.5 L521.5,604.9 L525.5,605.2 L529.5,605.6 L533.5,606.0 L537.5,606.5 L541.5,606.9 L545.5,607.3 L549.5,607.7 L553.5,608.2 L557.5,608.6 L561.5,609.1 L565.5,609.5 L569.5,610.0 L573.5,610.5 L577.5,611.0 L581.5,611.5 L585.5,612.0 L589.5,612.5 L593.5,613.0 L597.5,613.6 L601.5,614.1 L605.5,614.7 L609.5,615.2 L613.5,615.8 L617.5,616.4 L621.5,616.9 L625.5,617.5 L629.5,618.1 L633.5,618.7 L637.5,619.3 L641.5,619.9 L645.5,620.6 L649.5,621.2 L653.5,621.8 L657.5,622.5 L661.5,623.1 L665.5,623.8 L669.5,624.4 L673.5,625.1 L677.5,625.8 L681.5,626.4 L685.5,627.1 L689.5,627.8 L693.5,628.5 L697.5,629.2 L701.5,629.9 L705.5,630.6 L709.5,631.3 L713.5,632.0 L717.5,632.7 L721.5,633.5 L725.5,634.2 L729.5,634.9 L733.5,635.7 L737.5,636.4 L741.5,637.2 L745.5,637.9 L749.5,638.7 L753.5,639.4 L757.5,640.2 L761.5,640.9 L765.5,641.7 L769.5,642.5 L773.5,643.2 L777.5,644.0 L781.5,644.8 L785.5,645.5 L789.5,646.3 L793.5,647.1 L797.5,647.9 L801.5,648.7 L805.5,649.5 L809.5,650.2 L813.5,651.0 L817.5,651.8 L821.5,652.6 L825.5,653.4 L829.5,654.2 L833.5,655.0 L837.5,655.8 L841.5,656.6 L845.5,657.4 L849.5,658.2 L853.5,659.0 L857.5,659.8 L861.5,660.6 L865.5,661.4 L869.5,662.2 L873.5,663.0 L877.5,663.8 L881.5,664.6 L885.5,665.4 L889.5,666.3 L893.5,667.1 L897.5,667.9 L901.5,668.7 L905.5,669.5 L909.5,670.3 L913.5,671.1 L917.5,672.0 L921.5,672.8 L925.5,673.6 L929.5,674.4 L933.5,675.2 L937.5,676.1 L941.5,676.9 L945.5,677.7 L949.5,678.5 L953.5,679.3 L957.5,680.2 L961.5,681.0 L965.5,681.8 L969.5,682.6 L973.5,683.5 L977.5,684.3 L981.5,685.1 L985.5,685.9 L989.5,686.8 L993.5,687.6 L997.5,688.4 L1001.5,689.2 L1005.5,690.1 L1009.5,690.9 L1013.5,691.7 L1017.5,692.5 L1021.5,693.4 L1025.5,694.2 L1029.5,695.0 L1033.5,695.8 L1037.5,696.7 L1041.5,697.5 L1045.5,698.3 L1049.5,699.1 L1053.5,700.0 L1057.5,700.8 L1061.5,701.6 L1065.5,702.4 L1069.5,703.3 L1073.5,704.1 L1077.5,704.9 L1081.5,705.7 L1085.5,706.6 L1089.5,707.4 L1093.5,708.2 L1097.5,709.0 L1101.5,709.8 L1105.5,710.7 L1109.5,711.5 L1113.5,712.3 L1117.5,713.1 L1121.5,713.9 L1125.5,714.8 L1129.5,715.6 L1133.5,716.4 L1137.5,717.2 L1141.5,718.0 L1145.5,718.8 L1149.5,719.6 L1153.5,720.5 L1157.5,721.3 L1161.5,722.1 L1165.5,722.9 L1169.5,723.7 L1173.5,724.5 L1177.5,725.3 L1181.5,726.1 L1185.5,727.0 L1189.5,727.8 L1193.5,728.6 L1197.5,729.4 L1201.5,730.2 L1205.5,731.0 L1209.5,731.8 L1213.5,732.6 L1217.5,733.4 L1221.5,734.2 L1225.5,735.0 L1229.5,735.8 L1233.5,736.6 L1237.5,737.4 L1241.5,738.2 L1245.5,739.0 L1249.5,739.8 L1253.5,740.6 L1257.5,741.4 L1261.5,742.2 L1265.5,742.9 L1269.5,743.7 L1273.5,744.5 L1277.5,745.3 L1281.5,746.1 L1285.5,746.9 L1289.5,747.7 L1293.5,748.5 L1297.5,749.2 L1301.5,750.0 L1305.5,750.8 L1309.5,751.6 L1313.5,752.4 L1317.5,753.1 L1321.5,753.9 L1325.5,754.7 L1329.5,755.5 L1333.5,756.2 L1337.5,757.0 L1341.5,757.8 L1345.5,758.5 L1349.5,759.3 L1353.5,760.1 L1357.5,760.8 L1361.5,761.6 L1365.5,762.3 L1369.5,763.1 L1373.5,763.9 L1377.5,764.6 L1381.5,765.4 L1385.5,766.1 L1389.5,766.9 L1393.5,767.6 L1397.5,768.4 L1401.5,769.1 L1405.5,769.9 L1409.5,770.6 L1413.5,771.3 L1417.5,772.1 L1421.5,772.8 L1425.5,773.6 L1429.5,774.3 L1433.5,775.0 L1437.5,775.8 L1441.5,776.5 L1445.5,777.2 L1449.5,777.9 L1453.5,778.7 L1457.5,779.4 L1461.5,780.1 L1465.5,780.8 L1469.5,781.5 L1473.5,782.3 L1477.5,783.0 L1481.5,783.7 L1485.5,784.4 L1489.5,785.1 L1493.5,785.8 L1497.5,786.5 L1501.5,787.2 L1505.5,787.9 L1509.5,788.6 L1513.5,789.2 L1517.5,789.9 L1521.5,790.6 L1525.5,791.3 L1529.5,791.9 L1533.5,792.6 L1537.5,793.3 L1541.5,793.9 L1545.5,794.6 L1549.5,795.2 L1553.5,795.9 L1557.5,796.5 L1561.5,797.2 L1565.5,797.8 L1569.5,798.4 L1573.5,799.0 L1577.5,799.7 L1581.5,800.3 L1585.5,800.9 L1589.5,801.5 L1593.5,802.1 L1597.5,802.7 L1601.5,803.2 L1605.5,803.8 L1609.5,804.4 L1613.5,805.0 L1617.5,805.5 L1621.5,806.1 L1625.5,806.6 L1629.5,807.2 L1633.5,807.7 L1637.5,808.2 L1641.5,808.8 L1645.5,809.3 L1649.5,809.8 L1653.5,810.3 L1657.5,810.8 L1661.5,811.3 L1665.5,811.8 L1669.5,812.2 L1673.5,812.7 L1677.5,813.2 L1681.5,813.6 L1685.5,814.1 L1689.5,814.5 L1693.5,815.0 L1697.5,815.4 L1701.5,815.8 L1705.5,816.2 L1709.5,816.7 L1713.5,817.1 L1717.5,817.5 L1721.5,817.9 L1725.5,818.3 L1729.5,818.7 L1733.5,819.1 L1737.5,819.5 L1741.5,819.9 L1745.5,820.3 L1749.5,820.6 L1753.5,821.0 L1757.5,821.4 L1761.5,821.8 L1765.5,822.2 L1769.5,822.5 L1773.5,822.9 L1777.5,823.3 L1781.5,823.7 L1785.5,824.1 L1789.5,824.4 L1793.5,824.8 L1797.5,825.2 L1801.5,825.6 L1805.5,826.0 L1809.5,826.3 L1813.5,826.7 L1817.5,827.1 L1821.5,827.5 L1825.5,827.8 L1829.5,828.2 L1833.5,828.6 L1837.5,828.9 L1841.5,829.3 L1845.5,829.7 L1849.5,830.0 L1853.5,830.3 L1857.5,830.7 L1861.5,831.0 L1865.5,831.3 L1866.0,831.4"/>
<rect x="170.0" y="39.3" width="1927.5" height="1428.7" fill="none" stroke="#262626" stroke-width="5.4"/>
<path d="M555.50,1468.0 v-22 M555.50,39.3 v23 M941.00,1468.0 v-22 M941.00,39.3 v23 M1326.50,1468.0 v-22 M1326.50,39.3 v23 M1712.00,1468.0 v-22 M1712.00,39.3 v23 M170.0,1289.41 h22 M2097.5,1289.41 h-22 M170.0,1110.83 h22 M2097.5,1110.83 h-22 M170.0,932.24 h22 M2097.5,932.24 h-22 M170.0,753.65 h22 M2097.5,753.65 h-22 M170.0,575.06 h22 M2097.5,575.06 h-22 M170.0,396.47 h22 M2097.5,396.47 h-22 M170.0,217.89 h22 M2097.5,217.89 h-22" fill="none" stroke="#262626" stroke-width="5.9"/>
<text transform="translate(170.20,1525.90) scale(0.95,1)" font-size="46.7" text-anchor="middle" fill="#262626" stroke="#262626" stroke-width="0.7" stroke-linejoin="round">100</text>
<text transform="translate(555.70,1525.90) scale(0.95,1)" font-size="46.7" text-anchor="middle" fill="#262626" stroke="#262626" stroke-width="0.7" stroke-linejoin="round">150</text>
<text transform="translate(941.20,1525.90) scale(0.95,1)" font-size="46.7" text-anchor="middle" fill="#262626" stroke="#262626" stroke-width="0.7" stroke-linejoin="round">200</text>
<text transform="translate(1326.70,1525.90) scale(0.95,1)" font-size="46.7" text-anchor="middle" fill="#262626" stroke="#262626" stroke-width="0.7" stroke-linejoin="round">250</text>
<text transform="translate(1712.20,1525.90) scale(0.95,1)" font-size="46.7" text-anchor="middle" fill="#262626" stroke="#262626" stroke-width="0.7" stroke-linejoin="round">300</text>
<text transform="translate(2097.70,1525.90) scale(0.95,1)" font-size="46.7" text-anchor="middle" fill="#262626" stroke="#262626" stroke-width="0.7" stroke-linejoin="round">350</text>
<text transform="translate(151.40,1484.00) scale(0.95,1)" font-size="46.7" text-anchor="end" fill="#262626" stroke="#262626" stroke-width="0.7" stroke-linejoin="round">0</text>
<text transform="translate(151.40,1305.41) scale(0.95,1)" font-size="46.7" text-anchor="end" fill="#262626" stroke="#262626" stroke-width="0.7" stroke-linejoin="round">0.1</text>
<text transform="translate(151.40,1126.83) scale(0.95,1)" font-size="46.7" text-anchor="end" fill="#262626" stroke="#262626" stroke-width="0.7" stroke-linejoin="round">0.2</text>
<text transform="translate(151.40,948.24) scale(0.95,1)" font-size="46.7" text-anchor="end" fill="#262626" stroke="#262626" stroke-width="0.7" stroke-linejoin="round">0.3</text>
<text transform="translate(151.40,769.65) scale(0.95,1)" font-size="46.7" text-anchor="end" fill="#262626" stroke="#262626" stroke-width="0.7" stroke-linejoin="round">0.4</text>
<text transform="translate(151.40,591.06) scale(0.95,1)" font-size="46.7" text-anchor="end" fill="#262626" stroke="#262626" stroke-width="0.7" stroke-linejoin="round">0.5</text>
<text transform="translate(151.40,412.47) scale(0.95,1)" font-size="46.7" text-anchor="end" fill="#262626" stroke="#262626" stroke-width="0.7" stroke-linejoin="round">0.6</text>
<text transform="translate(151.40,233.89) scale(0.95,1)" font-size="46.7" text-anchor="end" fill="#262626" stroke="#262626" stroke-width="0.7" stroke-linejoin="round">0.7</text>
<text transform="translate(151.40,55.30) scale(0.95,1)" font-size="46.7" text-anchor="end" fill="#262626" stroke="#262626" stroke-width="0.7" stroke-linejoin="round">0.8</text>
<text transform="translate(1134.60,1595.50) scale(0.961,1)" font-size="63.2" text-anchor="middle" fill="#262626">Distance (km)</text>
<text transform="translate(64.30,753.00) rotate(-90) scale(0.961,1)" font-size="63.2" text-anchor="middle" fill="#262626">Probability</text>
<path class="c" stroke="#2878b5" d="M1603.9,133.0 H1718.8"/>
<path class="c" stroke="#2878b5" stroke-dasharray="22.1 21.4" d="M1841.9,133.0 H1951.1"/>
<text transform="translate(1730.40,127.00)" font-size="52.6" text-anchor="start" fill="#000">p</text>
<text transform="translate(1765.20,154.00) scale(1.25,1)" font-size="42" text-anchor="start" fill="#000" style="font-family:'Liberation Serif','DejaVu Serif',serif;font-style:italic;font-weight:normal">μ</text>
<text transform="translate(1791.00,180.80) scale(0.95,1)" font-size="35.5" text-anchor="start" fill="#000">a</text>
<text transform="translate(1967.60,127.00)" font-size="52.6" text-anchor="start" fill="#000">p</text>
<text transform="translate(2002.40,154.00) scale(1.25,1)" font-size="42" text-anchor="start" fill="#000" style="font-family:'Liberation Serif','DejaVu Serif',serif;font-style:italic;font-weight:normal">μ</text>
<text transform="translate(2028.20,180.80) scale(0.95,1)" font-size="35.5" text-anchor="start" fill="#000">b</text>
<path class="c" stroke="#ff8000" d="M1603.9,245.0 H1718.8"/>
<path class="c" stroke="#ff8000" stroke-dasharray="22.1 21.4" d="M1841.9,245.0 H1951.1"/>
<text transform="translate(1730.40,239.00)" font-size="52.6" text-anchor="start" fill="#000">p</text>
<text transform="translate(1764.60,266.00) scale(1.25,1)" font-size="42" text-anchor="start" fill="#000" style="font-family:'Liberation Serif','DejaVu Serif',serif;font-style:italic;font-weight:normal">ν</text>
<text transform="translate(1787.30,292.80) scale(0.95,1)" font-size="35.5" text-anchor="start" fill="#000">a</text>
<text transform="translate(1967.60,239.00)" font-size="52.6" text-anchor="start" fill="#000">p</text>
<text transform="translate(2001.80,266.00) scale(1.25,1)" font-size="42" text-anchor="start" fill="#000" style="font-family:'Liberation Serif','DejaVu Serif',serif;font-style:italic;font-weight:normal">ν</text>
<text transform="translate(2024.50,292.80) scale(0.95,1)" font-size="35.5" text-anchor="start" fill="#000">b</text>
<path class="c" stroke="#800080" d="M1603.9,357.2 H1718.8"/>
<path class="c" stroke="#800080" stroke-dasharray="22.1 21.4" d="M1841.9,357.2 H1951.1"/>
<text transform="translate(1730.40,351.20)" font-size="52.6" text-anchor="start" fill="#000">p</text>
<text transform="translate(1762.90,377.70)" font-size="42.5" text-anchor="start" fill="#000">o</text>
<text transform="translate(1789.00,405.00) scale(0.95,1)" font-size="35.5" text-anchor="start" fill="#000">a</text>
<text transform="translate(1967.60,351.20)" font-size="52.6" text-anchor="start" fill="#000">p</text>
<text transform="translate(2000.10,377.70)" font-size="42.5" text-anchor="start" fill="#000">o</text>
<text transform="translate(2026.20,405.00) scale(0.95,1)" font-size="35.5" text-anchor="start" fill="#000">b</text>
</svg>
</body></html>
